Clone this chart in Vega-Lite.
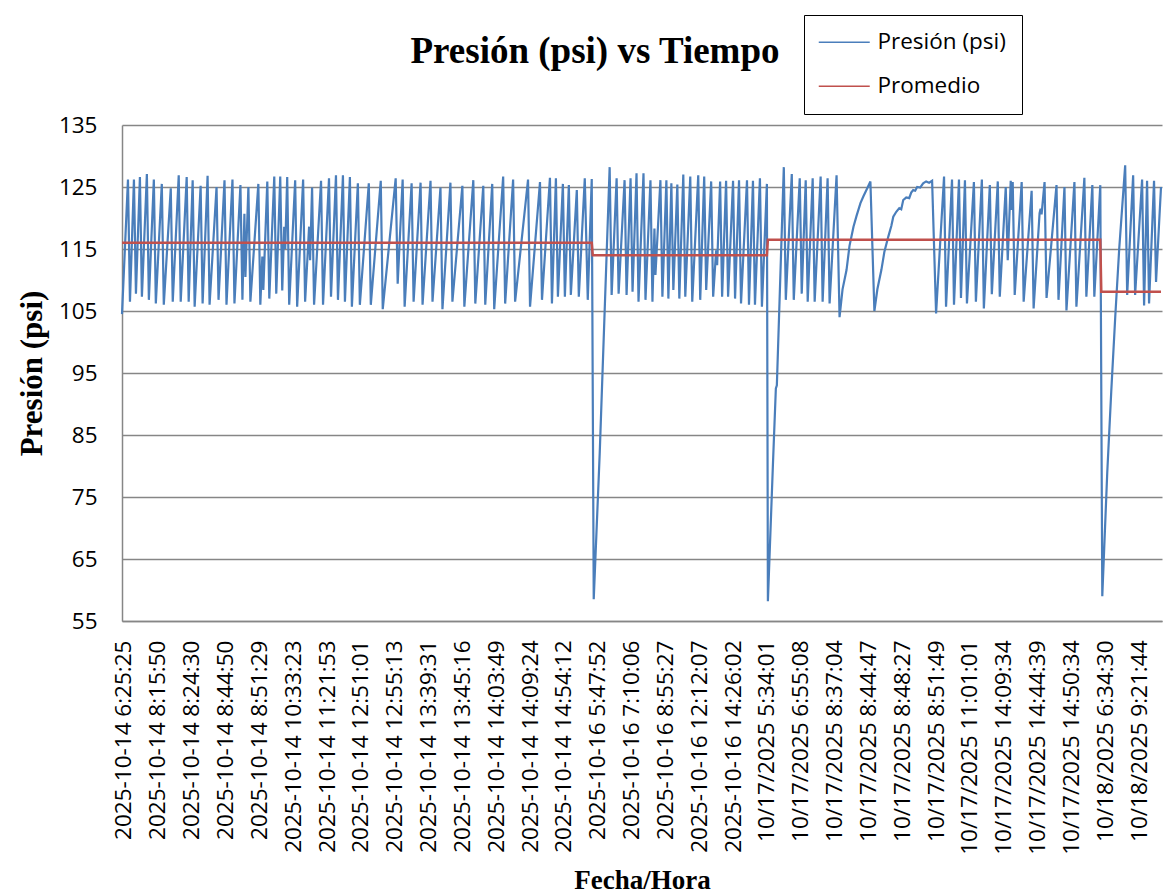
{
  "$schema": "https://vega.github.io/schema/vega-lite/v6.json",
  "width": 1040,
  "height": 496,
  "autosize": {"type": "none"},
  "padding": {"left": 122, "top": 125, "right": 14, "bottom": 273},
  "background": "white",
  "title": {
    "text": "Presión (psi) vs Tiempo",
    "font": "Liberation Serif",
    "fontSize": 37,
    "fontWeight": "bold",
    "color": "#000000",
    "anchor": "middle",
    "dx": -47,
    "offset": -56
  },
  "datasets": {
    "presion": [
      {"n": -2, "psi": 104.5}, {"n": 4, "psi": 126.2}, {"n": 6, "psi": 106.5}, {"n": 10, "psi": 126.2}, {"n": 12, "psi": 107.8},
      {"n": 16, "psi": 126.6}, {"n": 18, "psi": 107.3}, {"n": 23, "psi": 127.1}, {"n": 25, "psi": 106.8}, {"n": 30, "psi": 126.2},
      {"n": 32, "psi": 106.2}, {"n": 38, "psi": 125.5}, {"n": 40, "psi": 106.0}, {"n": 47, "psi": 124.8}, {"n": 49, "psi": 106.5},
      {"n": 55, "psi": 126.9}, {"n": 57, "psi": 106.5}, {"n": 63, "psi": 126.6}, {"n": 65, "psi": 106.5}, {"n": 69, "psi": 126.1},
      {"n": 71, "psi": 105.7}, {"n": 77, "psi": 125.2}, {"n": 79, "psi": 106.2}, {"n": 84, "psi": 126.8}, {"n": 86, "psi": 106.0},
      {"n": 93, "psi": 125.0}, {"n": 95, "psi": 106.8}, {"n": 101, "psi": 126.1}, {"n": 103, "psi": 106.0}, {"n": 109, "psi": 126.2},
      {"n": 111, "psi": 106.2}, {"n": 117, "psi": 125.3}, {"n": 119, "psi": 106.8}, {"n": 121, "psi": 120.7}, {"n": 122, "psi": 110.5},
      {"n": 125, "psi": 125.0}, {"n": 127, "psi": 106.5}, {"n": 135, "psi": 125.5}, {"n": 137, "psi": 106.0}, {"n": 139, "psi": 113.8},
      {"n": 140, "psi": 108.4}, {"n": 144, "psi": 125.9}, {"n": 146, "psi": 107.0}, {"n": 151, "psi": 126.7}, {"n": 153, "psi": 107.8},
      {"n": 157, "psi": 126.7}, {"n": 159, "psi": 108.3}, {"n": 161, "psi": 118.6}, {"n": 162, "psi": 115.0}, {"n": 164, "psi": 126.6},
      {"n": 166, "psi": 106.0}, {"n": 172, "psi": 126.1}, {"n": 174, "psi": 105.7}, {"n": 180, "psi": 126.2}, {"n": 182, "psi": 106.5},
      {"n": 186, "psi": 118.6}, {"n": 187, "psi": 113.2}, {"n": 189, "psi": 124.9}, {"n": 191, "psi": 106.0}, {"n": 198, "psi": 126.0},
      {"n": 200, "psi": 106.0}, {"n": 206, "psi": 126.4}, {"n": 208, "psi": 107.3}, {"n": 213, "psi": 126.9}, {"n": 215, "psi": 106.8},
      {"n": 220, "psi": 126.9}, {"n": 222, "psi": 106.5}, {"n": 227, "psi": 126.6}, {"n": 229, "psi": 105.7}, {"n": 235, "psi": 125.6},
      {"n": 237, "psi": 106.0}, {"n": 246, "psi": 125.6}, {"n": 248, "psi": 106.0}, {"n": 258, "psi": 126.0}, {"n": 260, "psi": 105.3},
      {"n": 273, "psi": 126.4}, {"n": 275, "psi": 109.4}, {"n": 280, "psi": 126.2}, {"n": 282, "psi": 105.7}, {"n": 289, "psi": 125.6},
      {"n": 291, "psi": 106.5}, {"n": 298, "psi": 125.7}, {"n": 300, "psi": 106.0}, {"n": 308, "psi": 126.0}, {"n": 310, "psi": 106.5},
      {"n": 318, "psi": 124.9}, {"n": 320, "psi": 105.3}, {"n": 328, "psi": 125.7}, {"n": 330, "psi": 106.5}, {"n": 340, "psi": 125.2},
      {"n": 342, "psi": 105.7}, {"n": 351, "psi": 126.1}, {"n": 353, "psi": 106.2}, {"n": 361, "psi": 125.2}, {"n": 363, "psi": 106.0},
      {"n": 370, "psi": 125.5}, {"n": 372, "psi": 105.3}, {"n": 381, "psi": 126.7}, {"n": 383, "psi": 106.2}, {"n": 391, "psi": 126.2},
      {"n": 393, "psi": 106.5}, {"n": 406, "psi": 126.2}, {"n": 408, "psi": 105.7}, {"n": 418, "psi": 125.8}, {"n": 420, "psi": 106.8},
      {"n": 428, "psi": 126.5}, {"n": 430, "psi": 106.2}, {"n": 434, "psi": 126.4}, {"n": 436, "psi": 107.3}, {"n": 441, "psi": 125.5},
      {"n": 443, "psi": 107.3}, {"n": 447, "psi": 125.3}, {"n": 449, "psi": 107.6}, {"n": 455, "psi": 124.5}, {"n": 457, "psi": 107.3},
      {"n": 463, "psi": 126.4}, {"n": 466, "psi": 106.8}, {"n": 470, "psi": 126.3}, {"n": 472, "psi": 58.5}, {"n": 478, "psi": 82.0},
      {"n": 488, "psi": 128.2}, {"n": 490, "psi": 107.6}, {"n": 495, "psi": 126.4}, {"n": 497, "psi": 107.8}, {"n": 503, "psi": 126.1},
      {"n": 505, "psi": 107.6}, {"n": 509, "psi": 126.4}, {"n": 511, "psi": 108.1}, {"n": 515, "psi": 127.2}, {"n": 517, "psi": 106.5},
      {"n": 522, "psi": 127.2}, {"n": 524, "psi": 106.8}, {"n": 529, "psi": 126.1}, {"n": 531, "psi": 106.5}, {"n": 533, "psi": 118.3},
      {"n": 534, "psi": 110.8}, {"n": 539, "psi": 126.1}, {"n": 541, "psi": 107.3}, {"n": 545, "psi": 126.1}, {"n": 547, "psi": 107.0},
      {"n": 550, "psi": 125.6}, {"n": 552, "psi": 108.4}, {"n": 556, "psi": 125.4}, {"n": 558, "psi": 107.0}, {"n": 562, "psi": 127.0},
      {"n": 564, "psi": 107.3}, {"n": 569, "psi": 126.7}, {"n": 571, "psi": 106.5}, {"n": 577, "psi": 126.9}, {"n": 579, "psi": 106.8},
      {"n": 583, "psi": 126.7}, {"n": 585, "psi": 108.4}, {"n": 590, "psi": 125.9}, {"n": 592, "psi": 107.3}, {"n": 595, "psi": 114.8},
      {"n": 596, "psi": 112.4}, {"n": 599, "psi": 125.9}, {"n": 601, "psi": 107.3}, {"n": 605, "psi": 126.0}, {"n": 607, "psi": 107.3},
      {"n": 612, "psi": 126.0}, {"n": 614, "psi": 107.0}, {"n": 618, "psi": 126.1}, {"n": 620, "psi": 106.2}, {"n": 626, "psi": 126.1},
      {"n": 628, "psi": 106.0}, {"n": 632, "psi": 126.0}, {"n": 634, "psi": 106.0}, {"n": 639, "psi": 126.4}, {"n": 641, "psi": 105.7},
      {"n": 646, "psi": 125.5}, {"n": 647, "psi": 58.2}, {"n": 652, "psi": 80.0}, {"n": 655, "psi": 92.5}, {"n": 656, "psi": 93.0},
      {"n": 663, "psi": 128.2}, {"n": 665, "psi": 106.8}, {"n": 671, "psi": 127.1}, {"n": 673, "psi": 106.8}, {"n": 679, "psi": 126.4},
      {"n": 681, "psi": 107.8}, {"n": 685, "psi": 126.1}, {"n": 687, "psi": 106.5}, {"n": 692, "psi": 126.4}, {"n": 694, "psi": 106.5},
      {"n": 700, "psi": 126.7}, {"n": 702, "psi": 106.5}, {"n": 707, "psi": 126.4}, {"n": 709, "psi": 106.2}, {"n": 716, "psi": 126.9},
      {"n": 719, "psi": 104.0}, {"n": 722, "psi": 108.5}, {"n": 726, "psi": 111.6}, {"n": 729, "psi": 115.5}, {"n": 733, "psi": 118.6},
      {"n": 736, "psi": 120.3}, {"n": 740, "psi": 122.4}, {"n": 743, "psi": 123.5}, {"n": 746, "psi": 124.5}, {"n": 750, "psi": 125.9},
      {"n": 754, "psi": 105.0}, {"n": 757, "psi": 108.5}, {"n": 761, "psi": 111.6}, {"n": 764, "psi": 114.5}, {"n": 768, "psi": 117.0},
      {"n": 771, "psi": 118.7}, {"n": 773, "psi": 120.2}, {"n": 776, "psi": 121.0}, {"n": 779, "psi": 121.6}, {"n": 781, "psi": 121.4},
      {"n": 783, "psi": 122.9}, {"n": 786, "psi": 123.3}, {"n": 789, "psi": 123.2}, {"n": 791, "psi": 124.1}, {"n": 793, "psi": 124.5},
      {"n": 795, "psi": 124.4}, {"n": 797, "psi": 125.0}, {"n": 800, "psi": 124.9}, {"n": 803, "psi": 125.6}, {"n": 806, "psi": 125.9},
      {"n": 809, "psi": 125.7}, {"n": 812, "psi": 126.0}, {"n": 816, "psi": 104.6}, {"n": 824, "psi": 126.7}, {"n": 826, "psi": 105.7},
      {"n": 832, "psi": 126.2}, {"n": 834, "psi": 106.0}, {"n": 839, "psi": 126.2}, {"n": 841, "psi": 107.1}, {"n": 845, "psi": 126.1},
      {"n": 847, "psi": 106.2}, {"n": 854, "psi": 125.8}, {"n": 856, "psi": 106.5}, {"n": 862, "psi": 126.2}, {"n": 864, "psi": 105.4},
      {"n": 870, "psi": 125.3}, {"n": 872, "psi": 107.7}, {"n": 878, "psi": 125.9}, {"n": 880, "psi": 107.3}, {"n": 886, "psi": 125.0},
      {"n": 888, "psi": 113.2}, {"n": 891, "psi": 126.0}, {"n": 892, "psi": 121.3}, {"n": 893, "psi": 125.8}, {"n": 895, "psi": 107.6},
      {"n": 902, "psi": 125.8}, {"n": 904, "psi": 106.5}, {"n": 912, "psi": 124.4}, {"n": 914, "psi": 105.4}, {"n": 920, "psi": 120.8},
      {"n": 921, "psi": 121.5}, {"n": 922, "psi": 120.6}, {"n": 925, "psi": 125.8}, {"n": 927, "psi": 107.1}, {"n": 937, "psi": 125.3},
      {"n": 939, "psi": 106.8}, {"n": 945, "psi": 125.0}, {"n": 947, "psi": 105.1}, {"n": 955, "psi": 125.8}, {"n": 957, "psi": 105.7},
      {"n": 965, "psi": 126.5}, {"n": 967, "psi": 107.3}, {"n": 973, "psi": 125.3}, {"n": 975, "psi": 107.3}, {"n": 981, "psi": 125.3},
      {"n": 983, "psi": 59.0}, {"n": 988, "psi": 79.0}, {"n": 992, "psi": 92.0}, {"n": 996, "psi": 104.0}, {"n": 1000, "psi": 115.0},
      {"n": 1006, "psi": 128.5}, {"n": 1008, "psi": 107.6}, {"n": 1014, "psi": 126.9}, {"n": 1016, "psi": 107.6}, {"n": 1023, "psi": 126.2},
      {"n": 1025, "psi": 105.9}, {"n": 1028, "psi": 126.0}, {"n": 1030, "psi": 106.2}, {"n": 1035, "psi": 126.0}, {"n": 1037, "psi": 109.7},
      {"n": 1042, "psi": 125.0}
    ],
    "promedio": [
      {"n": -2, "psi": 116.0}, {"n": 470, "psi": 116.0}, {"n": 471, "psi": 114.0}, {"n": 646, "psi": 114.0},
      {"n": 647, "psi": 116.5}, {"n": 981, "psi": 116.5}, {"n": 982, "psi": 108.1}, {"n": 1042, "psi": 108.1}
    ]
  },
  "encoding": {
    "x": {
      "field": "n",
      "type": "quantitative",
      "scale": {"domain": [-2, 1043], "nice": false, "zero": false},
      "axis": {
        "values": [0, 34, 68, 102, 136, 170, 204, 238, 272, 306, 340, 374, 408, 442, 476, 510, 544, 578, 612, 646, 680, 714, 748, 782, 816, 850, 884, 918, 952, 986, 1020],
        "labelExpr": "['2025-10-14 6:25:25','2025-10-14 8:15:50','2025-10-14 8:24:30','2025-10-14 8:44:50','2025-10-14 8:51:29','2025-10-14 10:33:23','2025-10-14 11:21:53','2025-10-14 12:51:01','2025-10-14 12:55:13','2025-10-14 13:39:31','2025-10-14 13:45:16','2025-10-14 14:03:49','2025-10-14 14:09:24','2025-10-14 14:54:12','2025-10-16 5:47:52','2025-10-16 7:10:06','2025-10-16 8:55:27','2025-10-16 12:12:07','2025-10-16 14:26:02','10/17/2025 5:34:01','10/17/2025 6:55:08','10/17/2025 8:37:04','10/17/2025 8:44:47','10/17/2025 8:48:27','10/17/2025 8:51:49','10/17/2025 11:01:01','10/17/2025 14:09:34','10/17/2025 14:44:39','10/17/2025 14:50:34','10/18/2025 6:34:30','10/18/2025 9:21:44'][round(datum.value / 34)]",
        "grid": false,
        "labelAngle": -90,
        "labelAlign": "right",
        "labelBaseline": "middle",
        "labelPadding": 19,
        "labelOverlap": false,
        "labelBound": false,
        "labelFlush": false,
        "labelLimit": 400,
        "title": "Fecha/Hora",
        "titleFontSize": 27,
        "titleX": 520,
        "titleY": 267,
        "titleAlign": "center",
        "titleBaseline": "alphabetic",
        "titleAngle": 0
      }
    },
    "y": {
      "field": "psi",
      "type": "quantitative",
      "scale": {"domain": [55, 135], "nice": false, "zero": false},
      "axis": {
        "values": [55, 65, 75, 85, 95, 105, 115, 125, 135],
        "grid": true,
        "labelPadding": 25,
        "title": "Presión (psi)",
        "titleFontSize": 31,
        "titleAngle": -90,
        "titleX": -90,
        "titleY": 248,
        "titleAlign": "center",
        "titleBaseline": "middle"
      }
    }
  },
  "layer": [
    {
      "data": {"name": "presion"},
      "mark": {"type": "line", "strokeWidth": 2.2, "interpolate": "linear"},
      "encoding": {
        "color": {
          "datum": "Presión (psi)",
          "type": "nominal",
          "scale": {"domain": ["Presión (psi)", "Promedio"], "range": ["#4a7ebb", "#c0504d"]},
          "legend": {
            "title": null,
            "orient": "none",
            "legendX": 682,
            "legendY": -110,
            "direction": "vertical",
            "strokeColor": "#000000",
            "fillColor": "#ffffff",
            "padding": 16,
            "symbolType": "M-5,0H5",
            "symbolSize": 104,
            "symbolOffset": 13,
            "symbolStrokeWidth": 1.5,
            "labelFont": "Open Sans",
            "labelFontSize": 22.5,
            "labelColor": "#000000",
            "labelOffset": 22,
            "rowPadding": 21
          }
        }
      }
    },
    {
      "data": {"name": "promedio"},
      "mark": {"type": "line", "strokeWidth": 2.5, "interpolate": "linear"},
      "encoding": {
        "color": {"datum": "Promedio", "type": "nominal"}
      }
    }
  ],
  "config": {
    "view": {"stroke": null},
    "axis": {
      "labelFont": "Open Sans",
      "labelFontSize": 22.5,
      "labelColor": "#000000",
      "titleFont": "Liberation Serif",
      "titleFontWeight": "bold",
      "titleColor": "#000000",
      "domainColor": "#868686",
      "domainWidth": 1.5,
      "gridColor": "#868686",
      "gridWidth": 1.5,
      "ticks": false,
      "tickSize": 0
    }
  }
}
